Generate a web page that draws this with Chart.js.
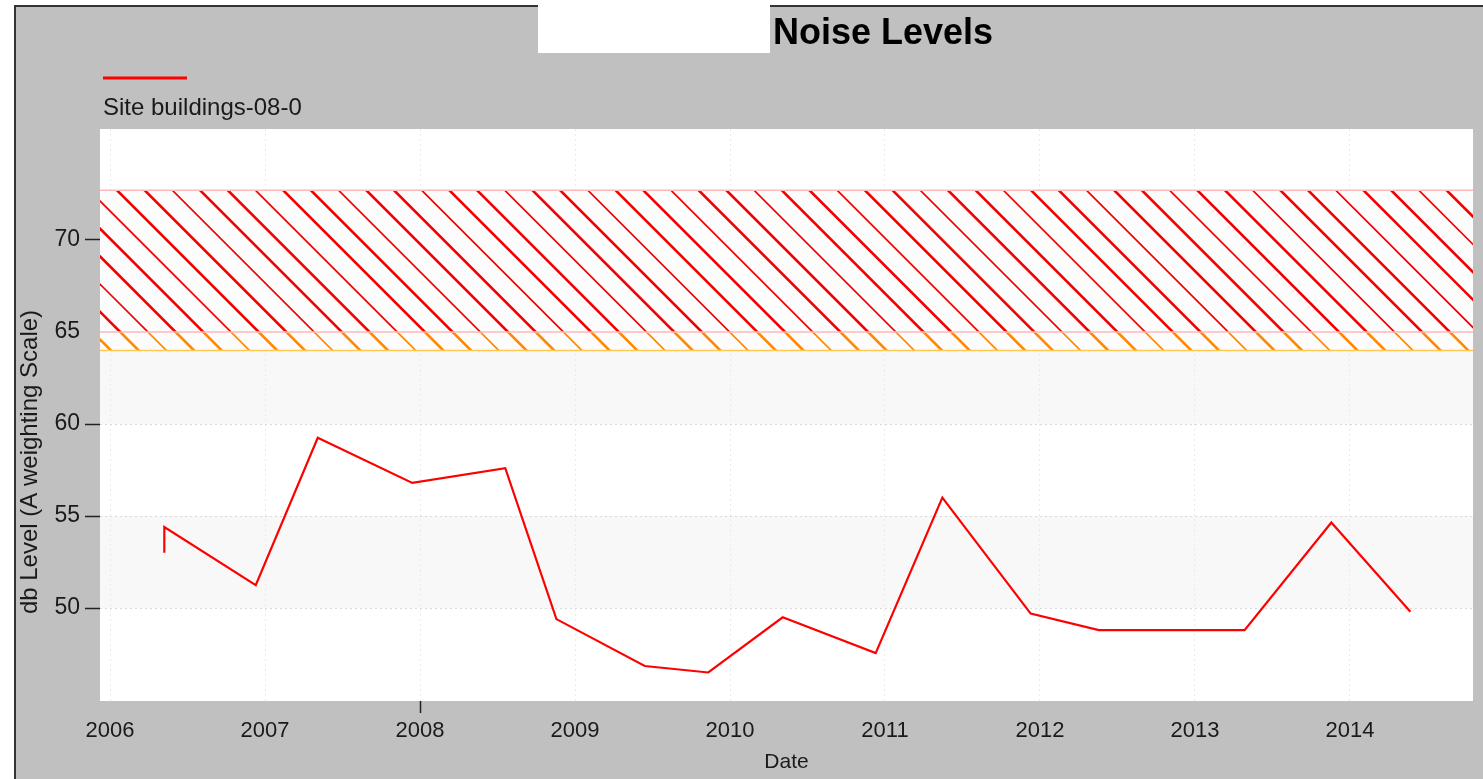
<!DOCTYPE html>
<html>
<head>
<meta charset="utf-8">
<title>Noise Levels</title>
<script src="https://cdn.jsdelivr.net/npm/chart.js@4.4.1/dist/chart.umd.min.js"></script>
<style>
  html, body { margin: 0; padding: 0; background: #fff; }
</style>
</head>
<body>
<canvas id="ruido" width="1483" height="779"></canvas>
<script>
// datos
const fechas = [2006.35, 2006.35, 2006.94, 2007.34, 2007.95, 2008.55, 2008.88, 2009.45, 2009.86, 2010.34, 2010.94, 2011.37, 2011.94, 2012.38, 2013.32, 2013.88, 2014.39];
const nivelesDb = [53.0, 54.4, 51.25, 59.25, 56.8, 57.6, 49.4, 46.85, 46.5, 49.5, 47.55, 56.0, 49.7, 48.8, 48.8, 54.65, 49.8];
const anios = [2006, 2007, 2008, 2009, 2010, 2011, 2012, 2013, 2014];
const nivelesEje = [50, 55, 60, 65, 70];
const bandasGrises = [[50, 55], [60, 65]];
const limiteNaranja = [64, 65];
const limiteRojo = [65, 72.7];
const nombreSerie = "Site buildings-08-0";
const titulo = "Noise Levels";
const tituloY = "db Level (A weighting Scale)";
const tituloX = "Date";

const FUENTE = '"Liberation Sans", Arial, sans-serif';

// fondo gris, marco, area blanca y bandas
const fondo = {
  id: "fondo",
  beforeDraw(chart) {
    const { ctx, chartArea: a, scales } = chart;
    const W = chart.width, H = chart.height;
    ctx.save();
    ctx.fillStyle = "#ffffff";
    ctx.fillRect(0, 0, W, H);
    ctx.fillStyle = "#c0c0c0";
    ctx.fillRect(15, 6, W - 15, H - 6);
    ctx.strokeStyle = "#333333";
    ctx.lineWidth = 2;
    ctx.beginPath();
    ctx.moveTo(15, H);
    ctx.lineTo(15, 6);
    ctx.lineTo(W, 6);
    ctx.stroke();
    ctx.fillStyle = "#ffffff";
    ctx.fillRect(538, 0, 232, 53);
    ctx.fillRect(a.left, a.top, a.right - a.left, a.bottom - a.top);
    ctx.fillStyle = "#f8f8f8";
    bandasGrises.forEach(([lo, hi]) => {
      const y1 = scales.y.getPixelForValue(hi);
      const y2 = scales.y.getPixelForValue(lo);
      ctx.fillRect(a.left, y1, a.right - a.left, y2 - y1);
    });
    ctx.restore();
  }
};

function rayado(ctx, a, yTop, yBot, color, fase) {
  const paso = 27.7;
  const grosores = [2.6, 2.6, 1.7];
  ctx.save();
  ctx.beginPath();
  ctx.rect(a.left, yTop, a.right - a.left, yBot - yTop);
  ctx.clip();
  ctx.strokeStyle = color;
  const kIni = Math.floor((a.left - yBot - fase) / paso) - 1;
  const kFin = Math.ceil((a.right - yTop - fase) / paso) + 1;
  for (let k = kIni; k <= kFin; k++) {
    const c = fase + k * paso;
    ctx.lineWidth = grosores[((k % 3) + 3) % 3];
    ctx.beginPath();
    ctx.moveTo(c + yTop - 30, yTop - 30);
    ctx.lineTo(c + yBot + 30, yBot + 30);
    ctx.stroke();
  }
  ctx.restore();
}

// zona rayada de limites
const limites = {
  id: "limites",
  beforeDatasetsDraw(chart) {
    const { ctx, chartArea: a, scales } = chart;
    const yRojoTop = scales.y.getPixelForValue(limiteRojo[1]);
    const yRojoBot = scales.y.getPixelForValue(limiteRojo[0]);
    const yNarTop = scales.y.getPixelForValue(limiteNaranja[1]);
    const yNarBot = scales.y.getPixelForValue(limiteNaranja[0]);
    const fase = a.left + 17 - yRojoTop;
    ctx.save();
    ctx.fillStyle = "#fcfcfc";
    ctx.fillRect(a.left, yRojoTop, a.right - a.left, yNarBot - yRojoTop);
    ctx.restore();
    rayado(ctx, a, yRojoTop, yRojoBot, "#f00000", fase);
    rayado(ctx, a, yNarTop, yNarBot, "#ff8800", fase);
    ctx.save();
    ctx.lineWidth = 1.5;
    ctx.strokeStyle = "#ffb8b8";
    [yRojoTop, yRojoBot].forEach(y => {
      ctx.beginPath(); ctx.moveTo(a.left, y); ctx.lineTo(a.right, y); ctx.stroke();
    });
    ctx.strokeStyle = "#ffc850";
    ctx.beginPath(); ctx.moveTo(a.left, yNarBot); ctx.lineTo(a.right, yNarBot); ctx.stroke();
    ctx.restore();
  }
};

// titulo, leyenda y titulo del eje y
const textos = {
  id: "textos",
  afterDraw(chart) {
    const { ctx } = chart;
    ctx.save();
    ctx.fillStyle = "#000000";
    ctx.font = "bold 36px " + FUENTE;
    ctx.textBaseline = "alphabetic";
    ctx.textAlign = "left";
    ctx.fillText(titulo, 773, 44);

    ctx.strokeStyle = "#ff0000";
    ctx.lineWidth = 3;
    ctx.beginPath(); ctx.moveTo(103, 78); ctx.lineTo(187, 78); ctx.stroke();
    ctx.fillStyle = "#1a1a1a";
    ctx.font = "24px " + FUENTE;
    ctx.fillText(nombreSerie, 103, 115);

    ctx.translate(37, 462);
    ctx.rotate(-Math.PI / 2);
    ctx.textAlign = "center";
    ctx.font = "24px " + FUENTE;
    ctx.fillStyle = "#1a1a1a";
    ctx.fillText(tituloY, 0, 0);
    ctx.restore();
  }
};

new Chart(document.getElementById("ruido"), {
  type: "line",
  data: {
    datasets: [{
      label: nombreSerie,
      data: fechas.map((f, i) => ({ x: f, y: nivelesDb[i] })),
      borderColor: "#ff0000",
      borderWidth: 2.2,
      pointRadius: 0,
      tension: 0,
      fill: false
    }]
  },
  options: {
    responsive: false,
    animation: false,
    layout: { padding: { left: 0, right: 10, top: 129, bottom: 0 } },
    plugins: {
      legend: { display: false },
      title: { display: false },
      tooltip: { enabled: false }
    },
    scales: {
      x: {
        type: "linear",
        min: 2005.935,
        max: 2014.794,
        afterFit: s => { s.height = 78; },
        afterBuildTicks: s => { s.ticks = anios.map(v => ({ value: v })); },
        border: { display: false, dash: [2, 3] },
        grid: {
          color: "#ebebeb",
          lineWidth: 1,
          tickLength: 12,
          tickWidth: 1.5,
          tickColor: c => (c.tick && c.tick.value === 2008 ? "#222222" : "rgba(0,0,0,0)")
        },
        ticks: {
          color: "#1a1a1a",
          padding: 5,
          maxRotation: 0,
          font: { family: FUENTE, size: 22 },
          callback: v => String(v)
        },
        title: {
          display: true,
          text: tituloX,
          color: "#1a1a1a",
          font: { family: FUENTE, size: 21 },
          padding: { top: 0, bottom: 4 }
        }
      },
      y: {
        min: 44.95,
        max: 76.03,
        afterFit: s => { s.width = 100; },
        afterBuildTicks: s => { s.ticks = nivelesEje.map(v => ({ value: v })); },
        border: { display: false, dash: [2, 3] },
        grid: {
          color: "#d8d8d8",
          lineWidth: 1,
          tickLength: 15,
          tickWidth: 1.5,
          tickColor: c => (c.tick && c.tick.value === 65 ? "rgba(0,0,0,0)" : "#222222")
        },
        ticks: {
          color: "#1a1a1a",
          padding: 5,
          font: { family: FUENTE, size: 23 }
        }
      }
    }
  },
  plugins: [fondo, limites, textos]
});
</script>
</body>
</html>
